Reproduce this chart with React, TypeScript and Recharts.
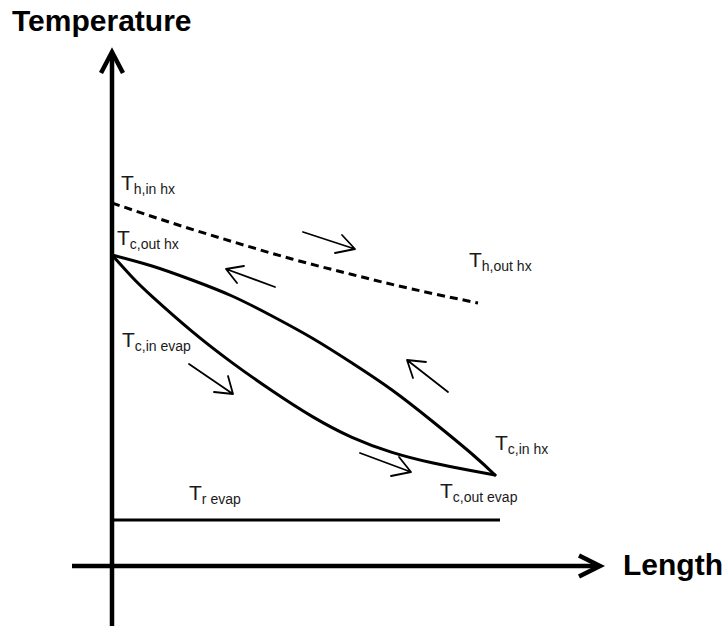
import React from 'react';
import { ComposedChart, Line, Scatter, XAxis, YAxis } from 'recharts';

// Hot stream in heat exchanger (dashed)
const hotHxX = [0, 6, 12, 18, 24, 30, 36.6];
const hotHxY = [36.3, 34.3, 32.45, 30.7, 29.15, 27.7, 26.3];
// Coolant through heat exchanger (upper solid curve)
const coldHxX = [0, 4, 8, 12, 16, 20, 24, 28, 32, 36, 38.3];
const coldHxY = [31.1, 30.0, 28.6, 27.0, 25.0, 22.8, 20.3, 17.6, 14.5, 11.2, 9.1];
// Coolant through evaporator (lower solid curve)
const coldEvapX = [0, 2, 4, 8, 12, 16, 20, 24, 28, 32, 36, 38.3];
const coldEvapY = [31.1, 28.9, 26.96, 23.46, 20.34, 17.52, 14.96, 12.86, 11.36, 10.32, 9.52, 9.1];
// Refrigerant evaporating temperature
const refrigX = [0, 38.8];
const refrigY = [4.6, 4.6];

// Axes with arrow heads
const tempAxisX = [0, 0];
const tempAxisY = [-6, 51.0];
const tempHeadX = [-1.1, 0, 1.1];
const tempHeadY = [49.3, 51.4, 49.3];
const lenAxisX = [-4, 48.5];
const lenAxisY = [0, 0];
const lenHeadX = [46.7, 48.8, 46.7];
const lenHeadY = [1.05, 0, -1.05];

// Flow direction arrows: tail, tip, wing, tip, wing
const flowArrowsX = [
  [19.1, 24.3, 23.0, 24.3, 22.3],
  [16.3, 11.4, 13.2, 11.4, 12.5],
  [33.6, 29.5, 31.4, 29.5, 30.1],
  [24.8, 29.9, 28.7, 29.9, 27.9],
  [7.7, 12.1, 11.6, 12.1, 10.2],
];
const flowArrowsY = [
  [33.4, 31.7, 33.1, 31.7, 31.3],
  [27.9, 29.7, 30.0, 29.7, 28.3],
  [17.4, 20.6, 20.4, 20.6, 18.8],
  [11.3, 9.4, 10.9, 9.4, 9.0],
  [20.2, 17.2, 19.0, 17.2, 17.4],
];

// Point labels
const labelSubs = ['h,in hx', 'c,out hx', 'h,out hx', 'c,in evap', 'c,in hx', 'c,out evap', 'r evap'];
const labelX = [0.9, 0.5, 35.7, 1.0, 38.3, 32.8, 7.7];
const labelY = [37.6, 32.1, 29.9, 21.9, 11.6, 6.8, 6.6];

// Axis titles
const titleTexts = ['Temperature', 'Length'];
const titleX = [-10.0, 51.1];
const titleY = [53.5, -0.9];

const toPts = (xs: number[], ys: number[]) => xs.map((x, i) => ({ x, y: ys[i] }));

const FONT = '"Liberation Sans", Arial, Helvetica, sans-serif';

const labelData = labelSubs.map((sub, i) => ({ x: labelX[i], y: labelY[i], sub }));
const titleData = titleTexts.map((t, i) => ({ x: titleX[i], y: titleY[i], t }));

const LabelShape = (props: any) => {
  const { cx, cy, payload } = props;
  return (
    <text x={cx} y={cy} fontFamily={FONT} fill="#1a1a1a">
      <tspan fontSize={21}>T</tspan>
      <tspan fontSize={14} dy={3.5}>{payload.sub}</tspan>
    </text>
  );
};

const TitleShape = (props: any) => {
  const { cx, cy, payload } = props;
  return (
    <text x={cx} y={cy} fontFamily={FONT} fontWeight="bold" fontSize={30} fill="#000">
      {payload.t}
    </text>
  );
};

export default function App() {
  return (
    <div style={{ position: 'absolute', left: 0, top: 0, background: '#fff' }}>
      <ComposedChart width={728} height={626} margin={{ top: 0, right: 0, bottom: 0, left: 0 }}>
        <XAxis type="number" dataKey="x" domain={[-11.2, 61.6]} allowDataOverflow hide />
        <YAxis type="number" dataKey="y" domain={[-6, 56.6]} allowDataOverflow hide />

        <Line data={toPts(tempAxisX, tempAxisY)} dataKey="y" type="linear" stroke="#000" strokeWidth={4.5} dot={false} activeDot={false} isAnimationActive={false} />
        <Line data={toPts(tempHeadX, tempHeadY)} dataKey="y" type="linear" stroke="#000" strokeWidth={4.5} strokeLinejoin="miter" dot={false} activeDot={false} isAnimationActive={false} />
        <Line data={toPts(lenAxisX, lenAxisY)} dataKey="y" type="linear" stroke="#000" strokeWidth={4.5} dot={false} activeDot={false} isAnimationActive={false} />
        <Line data={toPts(lenHeadX, lenHeadY)} dataKey="y" type="linear" stroke="#000" strokeWidth={4.5} strokeLinejoin="miter" dot={false} activeDot={false} isAnimationActive={false} />

        <Line data={toPts(hotHxX, hotHxY)} dataKey="y" type="natural" stroke="#000" strokeWidth={3} strokeDasharray="8 5" dot={false} activeDot={false} isAnimationActive={false} />
        <Line data={toPts(coldHxX, coldHxY)} dataKey="y" type="natural" stroke="#000" strokeWidth={3} strokeLinecap="round" dot={false} activeDot={false} isAnimationActive={false} />
        <Line data={toPts(coldEvapX, coldEvapY)} dataKey="y" type="natural" stroke="#000" strokeWidth={3} strokeLinecap="round" dot={false} activeDot={false} isAnimationActive={false} />
        <Line data={toPts(refrigX, refrigY)} dataKey="y" type="linear" stroke="#000" strokeWidth={3} dot={false} activeDot={false} isAnimationActive={false} />

        {flowArrowsX.map((xs, i) => (
          <Line key={'fa' + i} data={toPts(xs, flowArrowsY[i])} dataKey="y" type="linear" stroke="#000" strokeWidth={1.8} strokeLinecap="round" strokeLinejoin="round" dot={false} activeDot={false} isAnimationActive={false} />
        ))}

        <Scatter data={labelData} dataKey="y" shape={LabelShape} isAnimationActive={false} />
        <Scatter data={titleData} dataKey="y" shape={TitleShape} isAnimationActive={false} />
      </ComposedChart>
    </div>
  );
}
